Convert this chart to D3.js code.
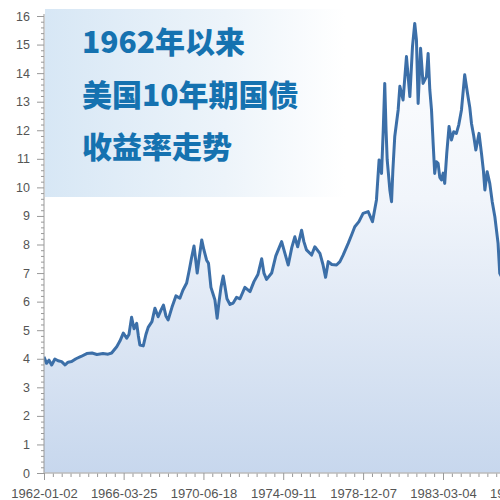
<!DOCTYPE html>
<html><head><meta charset="utf-8">
<script src="https://cdn.jsdelivr.net/npm/d3@7"></script>
<style>html,body{margin:0;padding:0;background:#fff;overflow:hidden}</style>
</head><body>
<svg id="c" width="500" height="500"></svg>
<script>
const titleLines = ["1962年以来", "美国10年期国债", "收益率走势"];
const xTickLabels = ["1962-01-02","1966-03-25","1970-06-18","1974-09-11","1978-12-07","1983-03-04","1987-05-29"];
const yTicks = [0,1,2,3,4,5,6,7,8,9,10,11,12,13,14,15,16];
const years = [1962.00,1962.14,1962.27,1962.41,1962.58,1962.75,1962.94,1963.12,1963.28,1963.47,1963.70,1963.97,1964.27,1964.55,1964.81,1965.13,1965.40,1965.59,1965.86,1966.03,1966.21,1966.39,1966.51,1966.65,1966.78,1966.92,1967.01,1967.09,1967.27,1967.41,1967.53,1967.73,1967.89,1968.06,1968.21,1968.34,1968.47,1968.59,1968.79,1969.00,1969.21,1969.37,1969.57,1969.71,1969.82,1969.96,1970.06,1970.13,1970.25,1970.37,1970.49,1970.63,1970.73,1970.86,1970.98,1971.07,1971.19,1971.28,1971.39,1971.51,1971.60,1971.71,1971.87,1972.04,1972.22,1972.40,1972.66,1972.93,1973.14,1973.35,1973.55,1973.67,1973.81,1974.08,1974.30,1974.61,1974.78,1974.96,1975.15,1975.31,1975.46,1975.67,1975.79,1975.93,1976.20,1976.37,1976.64,1976.80,1976.94,1977.08,1977.27,1977.52,1977.70,1977.87,1978.14,1978.33,1978.49,1978.71,1978.93,1979.20,1979.43,1979.64,1979.78,1979.91,1980.00,1980.08,1980.15,1980.21,1980.35,1980.44,1980.51,1980.61,1980.79,1980.88,1981.05,1981.23,1981.41,1981.55,1981.67,1981.76,1981.85,1981.98,1982.11,1982.29,1982.38,1982.47,1982.56,1982.65,1982.73,1982.81,1982.91,1983.00,1983.09,1983.18,1983.26,1983.37,1983.49,1983.62,1983.74,1983.88,1984.01,1984.15,1984.32,1984.47,1984.59,1984.68,1984.80,1984.91,1985.08,1985.21,1985.31,1985.39,1985.51,1985.65,1985.78,1985.92,1986.09,1986.18,1986.34];
const yields = [4.07,3.84,3.95,3.78,3.99,3.93,3.90,3.78,3.88,3.90,4.00,4.08,4.18,4.20,4.15,4.18,4.16,4.20,4.42,4.62,4.90,4.72,4.85,5.45,5.05,5.24,4.80,4.48,4.45,4.85,5.10,5.30,5.77,5.47,5.70,5.88,5.50,5.36,5.80,6.20,6.12,6.40,6.65,7.11,7.50,7.95,7.40,7.00,7.60,8.16,7.80,7.45,7.34,6.50,6.25,6.06,5.42,5.95,6.50,6.90,6.55,6.10,5.90,5.95,6.15,6.10,6.50,6.35,6.70,6.95,7.50,7.00,6.78,7.00,7.60,8.10,7.70,7.28,7.90,8.27,7.92,8.50,8.10,7.81,7.63,7.92,7.69,7.30,6.85,7.40,7.30,7.28,7.40,7.63,8.04,8.35,8.62,8.80,9.09,9.15,8.80,9.56,10.96,10.49,12.00,13.64,12.00,10.96,9.91,9.50,10.60,11.78,12.71,13.54,13.06,14.58,13.18,14.93,15.74,15.16,12.94,14.87,13.64,13.88,14.69,13.41,12.71,11.50,10.49,10.90,10.84,10.35,10.26,10.50,10.14,11.20,12.13,11.66,11.95,11.89,12.20,12.71,13.94,13.29,12.80,12.24,11.80,11.31,11.89,11.19,10.60,9.91,10.55,10.14,9.50,8.97,8.04,6.99,6.80];

const parse = d3.timeParse("%Y-%m-%d");
function yearToDate(y){ const yr=Math.floor(y); const s=new Date(yr,0,1), e=new Date(yr+1,0,1); return new Date(+s + (y-yr)*(e-s)); }
const data = years.map((y,i)=>({d:yearToDate(y), v:yields[i]}));

const svg = d3.select("#c");
const x0 = 44, yTop = 16, yBot = 473;
const tickDates = xTickLabels.map(parse);
const pxPerDay = 399/((tickDates[5]-tickDates[0])/864e5);
const x = d3.scaleTime().domain([tickDates[0], tickDates[6]])
  .range([x0, x0 + pxPerDay*((tickDates[6]-tickDates[0])/864e5)]);
const y = d3.scaleLinear().domain([0,16]).range([yBot, yTop]);

const defs = svg.append("defs");
const ag = defs.append("linearGradient").attr("id","ag").attr("gradientUnits","userSpaceOnUse")
  .attr("x1",0).attr("x2",0).attr("y1",yTop).attr("y2",yBot);
ag.append("stop").attr("offset","0%").attr("stop-color","#ffffff");
ag.append("stop").attr("offset","40%").attr("stop-color","#f1f5fb");
ag.append("stop").attr("offset","100%").attr("stop-color","#c7d7ed");
const tg = defs.append("linearGradient").attr("id","tg").attr("x1",0).attr("x2",1).attr("y1",0).attr("y2",0);
tg.append("stop").attr("offset","0%").attr("stop-color","#d7e7f5");
tg.append("stop").attr("offset","60%").attr("stop-color","#edf4fa");
tg.append("stop").attr("offset","100%").attr("stop-color","#ffffff");
defs.append("clipPath").attr("id","pc").append("rect").attr("x",x0).attr("y",0).attr("width",500).attr("height",yBot);

const g = svg.append("g").attr("clip-path","url(#pc)");
g.append("path").datum(data)
  .attr("d", d3.area().x(d=>x(d.d)).y0(y(0)).y1(d=>y(d.v)))
  .attr("fill","url(#ag)");

// title box
svg.append("rect").attr("x",x0+1).attr("y",9).attr("width",300).attr("height",188).attr("fill","url(#tg)");
titleLines.forEach((t,i)=>{
  svg.append("text").attr("x",82).attr("y",53+i*52.5).text(t)
    .attr("fill","#1572b0").attr("font-size",30).attr("font-weight",900)
    .attr("font-family","'Noto Sans CJK SC', 'Noto Sans', sans-serif");
});

g.append("path").datum(data)
  .attr("d", d3.line().x(d=>x(d.d)).y(d=>y(d.v)))
  .attr("fill","none").attr("stroke","#3c6fa8").attr("stroke-width",3).attr("stroke-linejoin","round");

// y axis
const minorY = d3.range(0,16.01,0.2).filter(v=>Math.abs(v-Math.round(v))>1e-6);
const yMinor = svg.append("g").attr("transform",`translate(${x0},0)`)
  .call(d3.axisLeft(y).tickValues(minorY).tickSize(3).tickFormat(""));
yMinor.select(".domain").remove();
const yAx = svg.append("g").attr("transform",`translate(${x0},0)`)
  .call(d3.axisLeft(y).tickValues(yTicks).tickSize(7).tickPadding(7).tickFormat(d3.format("d")));
yAx.select(".domain").attr("stroke","#999").attr("d",`M0,${yTop-2}V${yBot}`);
svg.selectAll(".tick line").attr("stroke","#999");
yAx.selectAll("text").attr("fill","#555").attr("font-size",12.5).attr("font-family","'Liberation Sans', Arial, sans-serif");

// x axis
const minorX = [];
for (let i=0;i<tickDates.length-1;i++){
  const a=x(tickDates[i]), b=x(tickDates[i+1]);
  for (let k=1;k<9;k++) minorX.push(x.invert(a+(b-a)*k/9));
}
const xMinor = svg.append("g").attr("transform",`translate(0,${yBot})`)
  .call(d3.axisBottom(x).tickValues(minorX).tickSize(4).tickFormat(""));
xMinor.select(".domain").remove();
xMinor.selectAll("line").attr("stroke","#999");
const xAx = svg.append("g").attr("transform",`translate(0,${yBot})`)
  .call(d3.axisBottom(x).tickValues(tickDates).tickSize(7).tickPadding(9).tickFormat((d,i)=>xTickLabels[i]));
xAx.select(".domain").attr("stroke","#bbb").attr("stroke-width",1.5).attr("d",`M${x0},0H520`);
xAx.selectAll("line").attr("stroke","#999");
xAx.selectAll("text").attr("fill","#555").attr("font-size",13).attr("font-family","'Liberation Sans', Arial, sans-serif");
</script>
</body></html>
